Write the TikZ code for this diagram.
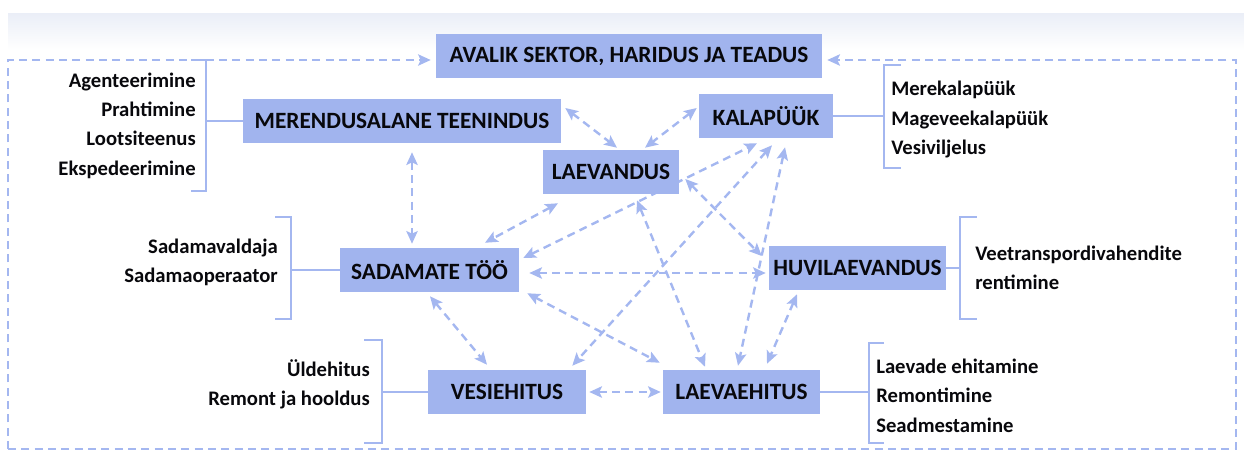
\documentclass[tikz,border=0pt]{standalone}
\usepackage{fontspec}
\setmainfont{Carlito}
\usetikzlibrary{arrows.meta,calc,backgrounds}
\definecolor{boxblue}{RGB}{161,180,238}
\definecolor{lineblue}{RGB}{164,183,240}
\definecolor{bandgray}{RGB}{234,238,247}
\definecolor{txt}{RGB}{8,8,12}
\tikzset{
  tip/.style={Stealth[length=9.5pt,width=8.5pt,inset=2pt]},
  box/.style={fill=boxblue, draw=none, minimum height=33pt, inner sep=0pt,
    text=txt, font=\fontsize{17.5}{21}\selectfont\bfseries},
  listtxt/.style={inner sep=0pt, text=txt,
    font=\fontsize{15.5}{22}\selectfont\bfseries},
  conn/.style={draw=lineblue, line width=1.8pt, dash pattern=on 6pt off 4pt,
    {Stealth[length=9.5pt,width=8.5pt,inset=2pt]}-{Stealth[length=9.5pt,width=8.5pt,inset=2pt]}},
  frameline/.style={draw=lineblue, line width=1.7pt, dash pattern=on 6pt off 4pt},
  framearrow/.style={frameline, -{Stealth[length=9.5pt,width=8.5pt,inset=2pt]}},
  bracket/.style={draw=lineblue, line width=1.7pt}
}
\begin{document}
\begin{tikzpicture}[x=0.75pt, y=-0.75pt]
\useasboundingbox (0,0) rectangle (1244,451);

% boxes
\node[box, minimum width=289.5pt] (ava) at (629,56) {AVALIK SEKTOR, HARIDUS JA TEADUS};
\node[box, minimum width=238.5pt] (mer) at (402,121) {MERENDUSALANE TEENINDUS};
\node[box, minimum width=100.5pt] (kal) at (766,116) {KALAPÜÜK};
\node[box, minimum width=102pt] (laev) at (611,172) {LAEVANDUS};
\node[box, minimum width=134.25pt] (sad) at (429.5,270) {SADAMATE TÖÖ};
\node[box, minimum width=132.75pt] (huv) at (857.5,268) {HUVILAEVANDUS};
\node[box, minimum width=118.5pt] (ves) at (507,392) {VESIEHITUS};
\node[box, minimum width=117.75pt] (lae) at (741.5,392) {LAEVAEHITUS};

% list texts
\node[listtxt, align=right, anchor=east] (merl) at (196,125.5) {Agenteerimine\\Prahtimine\\Lootsiteenus\\Ekspedeerimine};
\node[listtxt, align=left, anchor=west] (kall) at (891,119.5) {Merekalapüük\\Mageveekalapüük\\Vesiviljelus};
\node[listtxt, align=right, anchor=east] (sadl) at (278,262.5) {Sadamavaldaja\\Sadamaoperaator};
\node[listtxt, align=left, anchor=west] (huvl) at (975,268) {Veetranspordivahendite\\rentimine};
\node[listtxt, align=right, anchor=east] (vesl) at (370,384.5) {Üldehitus\\Remont ja hooldus};
\node[listtxt, align=left, anchor=west] (lael) at (876,395.5) {Laevade ehitamine\\Remontimine\\Seadmestamine};

% frame corners
\coordinate (ftl) at (8,60);
\coordinate (ftr) at (1236,60);
\coordinate (fbl) at (8,449);
\coordinate (fbr) at (1236,449);

% bracket spines
\coordinate (b1) at (206,121);
\coordinate (b2) at (884,116);
\coordinate (b3) at (291,270);
\coordinate (b4) at (960,268);
\coordinate (b5) at (382,392);
\coordinate (b6) at (869,392);

\begin{pgfonlayer}{background}
\shade[top color=bandgray, bottom color=white, draw=none] (8,13) rectangle (1244,50);

% frame
\draw[framearrow] (fbl) -- (ftl) -- ($(ava.west |- ftl)+(-5,0)$);
\draw[framearrow] (fbl) -- (fbr) -- (ftr) -- ($(ava.east |- ftr)+(5,0)$);

% brackets
\draw[bracket] (191,60) -- (206,60) -- (206,191) -- (191,191);
\draw[bracket] (mer.west) -- (b1);
\draw[bracket] (901,65) -- (884,65) -- (884,168) -- (901,168);
\draw[bracket] (kal.east) -- (b2);
\draw[bracket] (275,217) -- (291,217) -- (291,319) -- (275,319);
\draw[bracket] (sad.west) -- (b3);
\draw[bracket] (977,217) -- (960,217) -- (960,319) -- (977,319);
\draw[bracket] (huv.east) -- (b4);
\draw[bracket] (364,340) -- (382,340) -- (382,443) -- (364,443);
\draw[bracket] (ves.west) -- (b5);
\draw[bracket] (884,343) -- (869,343) -- (869,443) -- (884,443);
\draw[bracket] (lae.east) -- (b6);

% connectors
\draw[conn] ($(mer.east)+(4,-13)$) -- ($(laev.north)+(6,-2)$);
\draw[conn] ($(kal.west)+(-2,-8)$) -- ($(laev.north)+(34,-2)$);
\draw[conn] ($(mer.south)+(10,9)$) -- ($(sad.north)+(-17.5,-4)$);
\draw[conn] ($(laev.south)+(-53,9)$) -- ($(sad.north)+(55.5,-5)$);
\draw[conn] ($(sad.east)+(4,-12)$) -- ($(kal.south)+(-9,5)$);
\draw[conn] ($(laev.east)+(6,7)$) -- ($(huv.west)+(-7,-12)$);
\draw[conn] ($(sad.east)+(10,3)$) -- ($(huv.west)+(-3,5)$);
\draw[conn] ($(sad.south east)+(8,1)$) -- ($(lae.north west)+(-3,-7)$);
\draw[conn] ($(sad.south)+(0.5,4)$) -- ($(ves.north)+(-20,-5)$);
\draw[conn] ($(ves.east)+(3,0)$) -- ($(lae.west)+(-2,0)$);
\draw[conn] ($(huv.south)+(-60.5,4)$) -- ($(lae.north)+(25.5,-6)$);
\draw[conn] ($(kal.south)+(6,7)$) -- ($(ves.north east)+(-14,-4)$);
\draw[conn] ($(kal.south)+(19,9)$) -- ($(lae.north)+(-3.5,-4)$);
\draw[conn] ($(laev.south)+(26,6)$) -- ($(lae.north)+(-36.5,-3)$);
\end{pgfonlayer}
\end{tikzpicture}
\end{document}
